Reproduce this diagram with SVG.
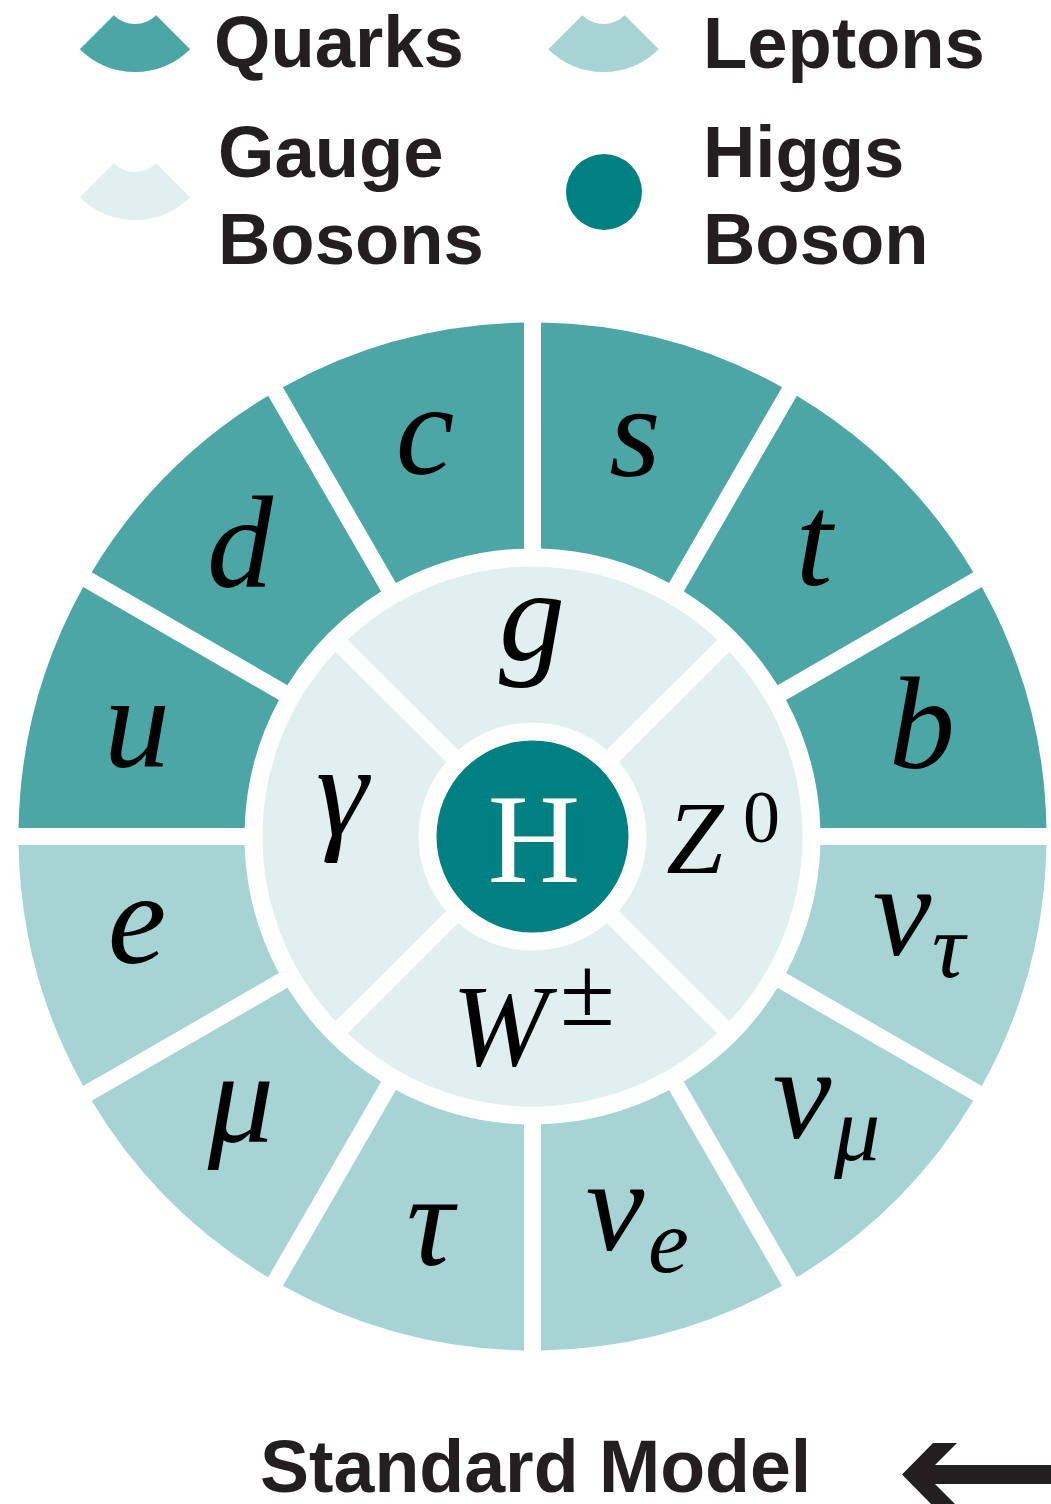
<svg xmlns="http://www.w3.org/2000/svg" xmlns:xlink="http://www.w3.org/1999/xlink" width="1051" height="1504" viewBox="0 0 1051 1504">
<defs>
<style>
.q{fill:#4da6a6}
.l{fill:#a6d3d3}
.gb{fill:#e0f0f0}
.h{fill:#008080}
.leg{font-family:"Liberation Sans",Arial,sans-serif;font-weight:bold;font-size:72.5px;fill:#231f20}
.m{font-family:"Liberation Serif","Times New Roman",serif;font-style:italic;font-size:132px;fill:#000;text-anchor:middle}
.s{font-family:"Liberation Serif","Times New Roman",serif;font-style:italic;font-size:92px;fill:#000}
.up{font-family:"Liberation Serif","Times New Roman",serif;fill:#000}
</style>
<path id="sec" d="M513.93 -8.5 A514 514 0 0 0 449.33 -249.6 L253.56 -136.58 A288 288 0 0 1 287.87 -8.5 Z"/>
<path id="bsec" d="M196.84 184.82 A270 270 0 0 0 196.84 -184.82 L86.4 -74.38 A114 114 0 0 1 86.4 74.38 Z"/>
<path id="lsec" d="M-55.2 55.2 A78 78 0 0 0 55.2 55.2 L21.2 21.2 A30 30 0 0 1 -21.2 21.2 Z"/>
</defs>
<rect width="1051" height="1504" fill="#fff"/>
<g id="legend">
<g id="legend-quarks"><use xlink:href="#lsec" class="q" transform="translate(135,-6)"/><text class="leg" x="214" y="67">Quarks</text></g>
<g id="legend-leptons"><use xlink:href="#lsec" class="l" transform="translate(603.5,-6)"/><text class="leg" x="703" y="68">Leptons</text></g>
<g id="legend-gauge"><use xlink:href="#lsec" class="gb" transform="translate(135,142)"/><text class="leg" x="218" y="177">Gauge</text><text class="leg" x="218" y="264">Bosons</text></g>
<g id="legend-higgs"><circle class="h" cx="604" cy="192" r="38"/><text class="leg" x="703" y="177">Higgs</text><text class="leg" x="703" y="264">Boson</text></g>
</g>
<g id="quarks">
<g id="quark-b"><use xlink:href="#sec" class="q" transform="translate(532.5,836.5)"/><text class="m" x="922" y="768">b</text></g>
<g id="quark-t"><use xlink:href="#sec" class="q" transform="translate(532.5,836.5) rotate(-30)"/><text class="m" x="814" y="585">t</text></g>
<g id="quark-s"><use xlink:href="#sec" class="q" transform="translate(532.5,836.5) rotate(-60)"/><text class="m" x="635" y="476">s</text></g>
<g id="quark-c"><use xlink:href="#sec" class="q" transform="translate(532.5,836.5) rotate(-90)"/><text class="m" x="425" y="474">c</text></g>
<g id="quark-d"><use xlink:href="#sec" class="q" transform="translate(532.5,836.5) rotate(-120)"/><text class="m" x="240" y="587">d</text></g>
<g id="quark-u"><use xlink:href="#sec" class="q" transform="translate(532.5,836.5) rotate(-150)"/><text class="m" x="137" y="766">u</text></g>
</g>
<g id="leptons">
<g id="lepton-e"><use xlink:href="#sec" class="l" transform="translate(532.5,836.5) rotate(-180)"/><text class="m" x="137" y="963">e</text></g>
<g id="lepton-mu"><use xlink:href="#sec" class="l" transform="translate(532.5,836.5) rotate(-210)"/><text class="m" x="241" y="1142">μ</text></g>
<g id="lepton-tau"><use xlink:href="#sec" class="l" transform="translate(532.5,836.5) rotate(-240)"/><text class="m" x="430" y="1265">τ</text></g>
<g id="lepton-nue"><use xlink:href="#sec" class="l" transform="translate(532.5,836.5) rotate(-270)"/><text class="m" x="615" y="1250">ν</text><text class="s" x="648" y="1272">e</text></g>
<g id="lepton-numu"><use xlink:href="#sec" class="l" transform="translate(532.5,836.5) rotate(-300)"/><text class="m" x="802" y="1138">ν</text><text class="s" x="834" y="1160">μ</text></g>
<g id="lepton-nutau"><use xlink:href="#sec" class="l" transform="translate(532.5,836.5) rotate(-330)"/><text class="m" x="902" y="955">ν</text><text class="s" x="932" y="977">τ</text></g>
</g>
<g id="bosons">
<g id="boson-z"><use xlink:href="#bsec" class="gb" transform="translate(532.5,836.5)"/><text class="m" x="695" y="873" style="font-size:103px">Z</text><text class="up" x="743" y="842" style="font-size:74px">0</text></g>
<g id="boson-g"><use xlink:href="#bsec" class="gb" transform="translate(532.5,836.5) rotate(-90)"/><text class="m" x="532" y="660">g</text></g>
<g id="boson-gamma"><use xlink:href="#bsec" class="gb" transform="translate(532.5,836.5) rotate(-180)"/><text class="m" x="342" y="835">γ</text></g>
<g id="boson-w"><use xlink:href="#bsec" class="gb" transform="translate(532.5,836.5) rotate(90)"/><text class="m" x="500" y="1065" style="font-size:116px">W</text><text class="up" x="560" y="1025" style="font-size:100px">±</text></g>
</g>
<g id="higgs">
<circle class="h" cx="532.5" cy="836.5" r="96"/>
<text x="534" y="882" style="font-family:'Liberation Serif','Times New Roman',serif;font-size:128px;fill:#fff;text-anchor:middle">H</text>
</g>
<g id="title"><text class="leg" x="260" y="1492" style="font-size:73.5px">Standard Model</text></g>
<g id="connectors">
<polygon points="902,1474.5 933,1443 957,1443 935,1465 1051,1465 1051,1484 935,1484 957,1506 933,1506" fill="#231f20"/>
</g>
</svg>
